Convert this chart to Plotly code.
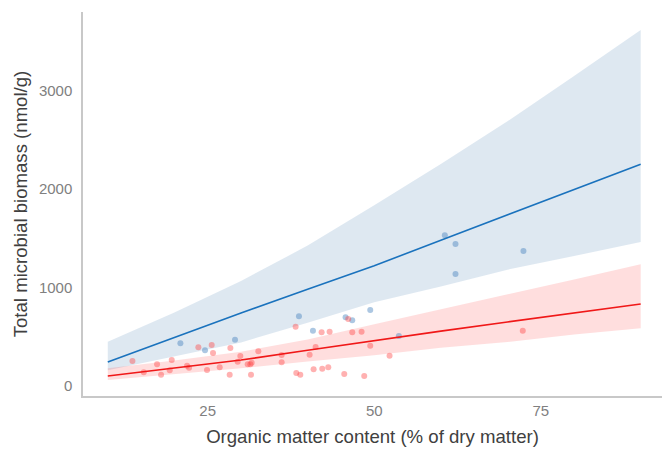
import plotly.graph_objects as go

# ---- data ----
fit_x = [10, 20, 30, 40, 50, 60, 70, 80, 90]

blue_fit = [240, 490, 740, 980, 1220, 1480, 1740, 1995, 2252]
blue_upper = [448, 745, 1065, 1425, 1835, 2255, 2690, 3150, 3620]
blue_lower = [158, 300, 440, 640, 850, 1010, 1180, 1320, 1462]

red_fit = [99, 180, 261, 360, 460, 555, 648, 740, 831]
red_upper = [177, 255, 346, 470, 625, 775, 932, 1080, 1235]
red_lower = [58, 115, 177, 245, 310, 385, 445, 520, 584]

blue_x = [20.9, 24.6, 29.1, 38.7, 40.8, 45.7, 46.7, 49.4, 53.7, 60.6, 62.2, 62.2, 72.4]
blue_y = [431, 360, 468, 706, 560, 696, 665, 770, 506, 1530, 1441, 1136, 1370]

red_x = [13.7, 15.4, 17.4, 18.0, 19.3, 19.6, 21.9, 22.2, 23.6, 24.9, 25.6, 25.8,
         26.8, 28.3, 28.4, 29.5, 29.9, 31.0, 31.4, 31.5, 31.6, 32.6, 36.1, 36.1,
         38.2, 38.3, 38.9, 40.3, 40.9, 41.2, 42.1, 42.2, 43.1, 43.3, 45.5, 46.1,
         46.7, 48.1, 48.5, 49.4, 52.3, 72.3]
red_y = [251, 136, 218, 112, 157, 261, 204, 183, 390, 160, 414, 333,
         187, 112, 384, 244, 302, 218, 218, 112, 234, 350, 312, 238,
         600, 129, 112, 315, 167, 394, 543, 173, 187, 549, 119, 678,
         543, 549, 99, 407, 305, 560]

x_ticks = [25, 50, 75]
y_ticks = [0, 1000, 2000, 3000]

fig = go.Figure()

# ribbons
fig.add_trace(go.Scatter(x=fit_x, y=blue_lower, mode="lines", line=dict(width=0),
                         hoverinfo="skip", showlegend=False))
fig.add_trace(go.Scatter(x=fit_x, y=blue_upper, mode="lines", line=dict(width=0),
                         fill="tonexty", fillcolor="rgba(70,130,180,0.18)",
                         hoverinfo="skip", showlegend=False))
fig.add_trace(go.Scatter(x=fit_x, y=red_lower, mode="lines", line=dict(width=0),
                         hoverinfo="skip", showlegend=False))
fig.add_trace(go.Scatter(x=fit_x, y=red_upper, mode="lines", line=dict(width=0),
                         fill="tonexty", fillcolor="rgba(255,60,60,0.17)",
                         hoverinfo="skip", showlegend=False))

# points
fig.add_trace(go.Scatter(x=blue_x, y=blue_y, mode="markers",
                         marker=dict(size=6, color="rgba(70,130,190,0.45)"),
                         showlegend=False))
fig.add_trace(go.Scatter(x=red_x, y=red_y, mode="markers",
                         marker=dict(size=6, color="rgba(255,60,60,0.40)"),
                         showlegend=False))

# fit lines
fig.add_trace(go.Scatter(x=fit_x, y=blue_fit, mode="lines",
                         line=dict(color="#1a72bd", width=1.6), showlegend=False))
fig.add_trace(go.Scatter(x=fit_x, y=red_fit, mode="lines",
                         line=dict(color="#f01818", width=1.6), showlegend=False))

font_family = "Arial, Liberation Sans, sans-serif"

fig.update_layout(
    width=662, height=449,
    margin=dict(l=83, r=0, t=12, b=53),
    paper_bgcolor="white", plot_bgcolor="white",
    font=dict(family=font_family),
    xaxis=dict(
        range=[6.28, 93.2], tickvals=x_ticks, showgrid=False, zeroline=False,
        showline=True, linecolor="#c8c8c8", linewidth=1.5, ticks="",
        tickfont=dict(size=15, color="#808080"),
        title=dict(text="Organic matter content (% of dry matter)",
                   font=dict(size=18.6, color="#404040"), standoff=12),
    ),
    yaxis=dict(
        range=[-105, 3802], tickvals=y_ticks, showgrid=False, zeroline=False,
        showline=True, linecolor="#c8c8c8", linewidth=1.5, ticks="",
        ticklabelstandoff=6,
        tickfont=dict(size=15, color="#808080"),
        title=dict(text="Total microbial biomass (nmol/g)",
                   font=dict(size=18.6, color="#404040"), standoff=6),
    ),
)

fig.write_html("out.html")
